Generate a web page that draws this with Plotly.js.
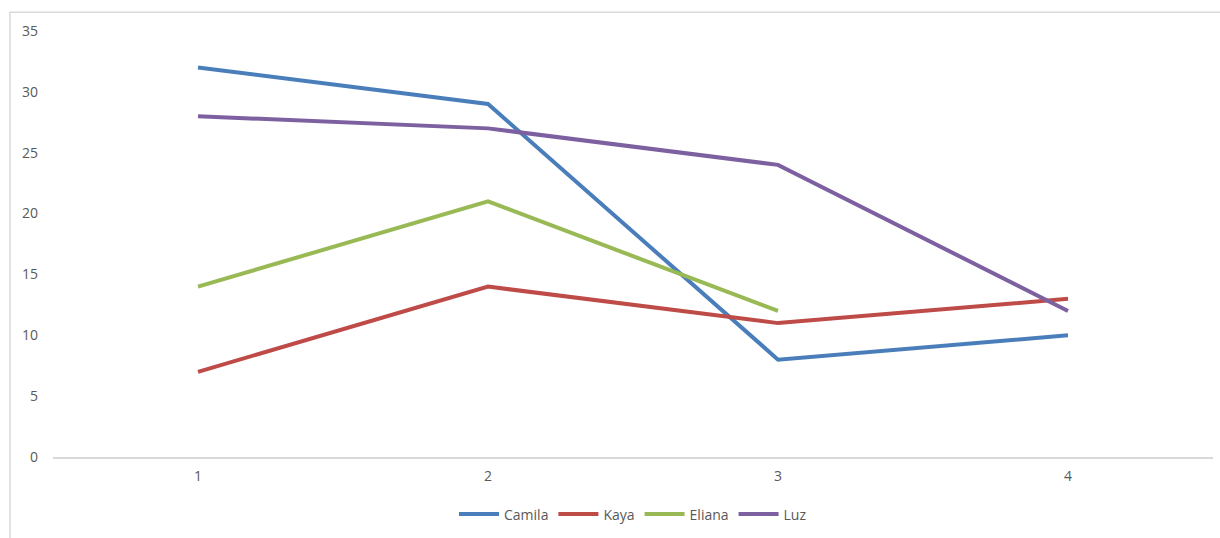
<!DOCTYPE html>
<html>
<head>
<meta charset="utf-8">
<script src="https://cdn.plot.ly/plotly-3.0.1.min.js"></script>
<style>
  html, body { margin: 0; padding: 0; background: #ffffff; }
  #chart { width: 1220px; height: 538px; }
</style>
</head>
<body>
<div id="chart"></div>
<script>
// Scores per round
const rounds = [1, 2, 3, 4];
const camila = [32, 29, 8, 10];
const kaya = [7, 14, 11, 13];
const eliana = [14, 21, 12, null];
const luz = [28, 27, 24, 12];

const seriesNames = ['Camila', 'Kaya', 'Eliana', 'Luz'];
const seriesValues = [camila, kaya, eliana, luz];
const seriesColors = ['#4A7EBB', '#BE4B48', '#98B954', '#7D60A0'];

const traces = seriesNames.map((name, i) => ({
  type: 'scatter',
  mode: 'lines',
  name: name,
  x: rounds,
  y: seriesValues[i],
  line: { color: seriesColors[i], width: 4 },
  connectgaps: false
}));

const layout = {
  width: 1220,
  height: 538,
  margin: { l: 53, r: 7, t: 31, b: 78 },
  paper_bgcolor: '#ffffff',
  plot_bgcolor: '#ffffff',
  font: { family: 'Open Sans, Liberation Sans, sans-serif', size: 14, color: '#595959' },
  showlegend: true,
  legend: {
    orientation: 'h',
    x: 0.5, xanchor: 'center',
    y: -0.135, yanchor: 'middle',
    font: { size: 14, color: '#595959' },
    itemwidth: 40,
    tracegroupgap: 0
  },
  xaxis: {
    range: [0.5, 4.5],
    tickmode: 'array',
    tickvals: rounds,
    ticktext: rounds.map(String),
    showgrid: false,
    zeroline: false,
    showline: true,
    linecolor: '#D9D9D9',
    linewidth: 1.5,
    ticks: '',
    ticklabelstandoff: 6,
    fixedrange: true
  },
  yaxis: {
    range: [0, 35],
    tickmode: 'array',
    tickvals: [0, 5, 10, 15, 20, 25, 30, 35],
    showgrid: false,
    zeroline: false,
    showline: false,
    ticks: '',
    ticklabelstandoff: 14,
    fixedrange: true
  },
  shapes: [
    {
      type: 'rect',
      xref: 'paper', yref: 'paper',
      x0: -0.0371, x1: 1.02,
      y0: -0.3, y1: 1.0443,
      line: { color: '#D9D9D9', width: 1.5 },
      fillcolor: 'rgba(0,0,0,0)',
      layer: 'below'
    }
  ]
};

Plotly.newPlot('chart', traces, layout, { displayModeBar: false, staticPlot: true });
</script>
</body>
</html>
